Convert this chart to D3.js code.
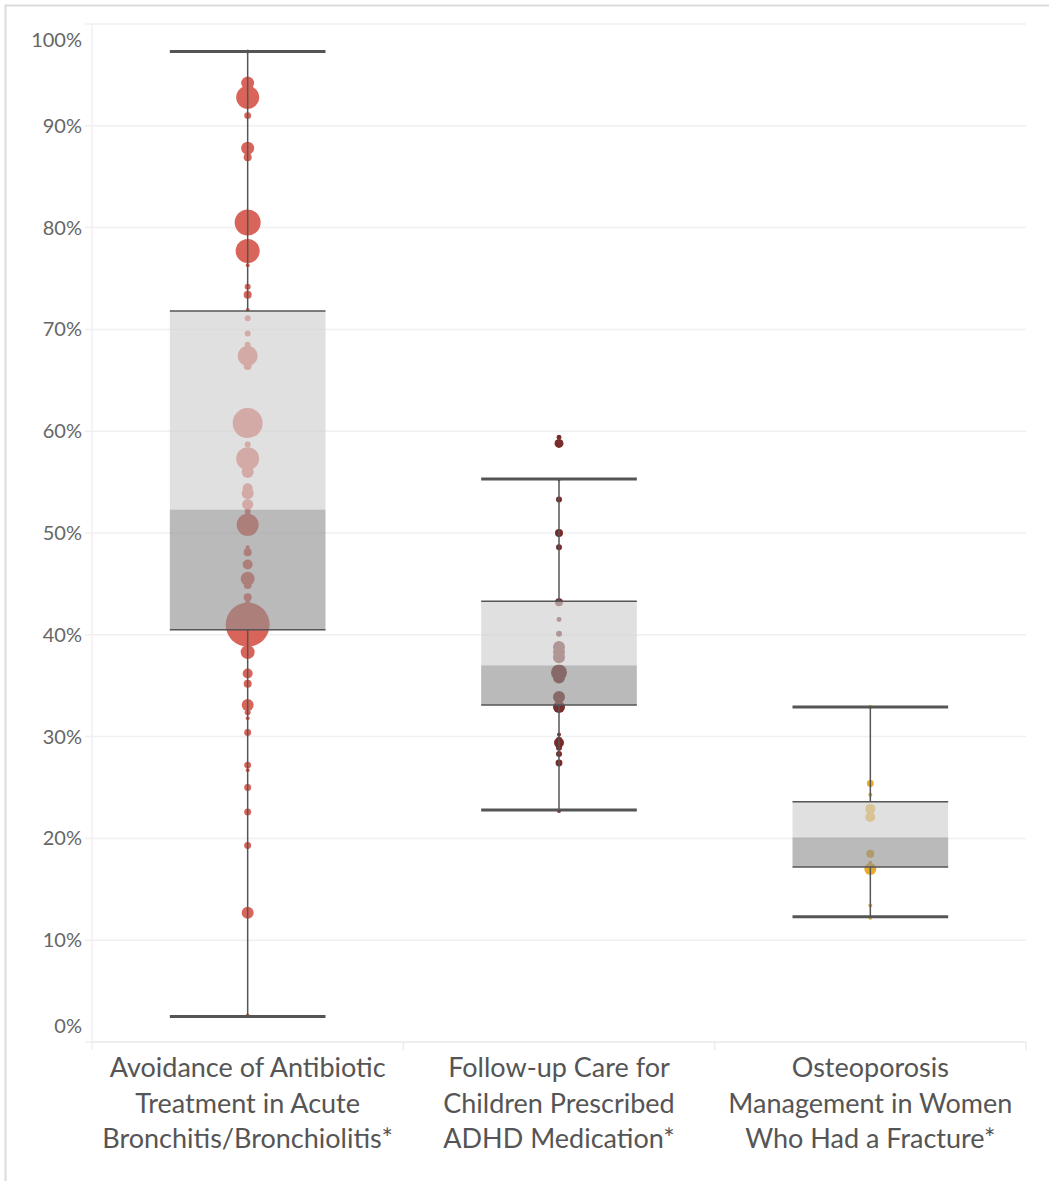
<!DOCTYPE html>
<html>
<head>
<meta charset="utf-8">
<script src="https://cdn.jsdelivr.net/npm/d3@7"></script>
<style>
  html, body { margin: 0; padding: 0; background: #fff; }
  svg { display: block; font-family: Lato, "Open Sans", sans-serif; }
</style>
</head>
<body>
<svg id="chart" width="1049" height="1181"></svg>
<script>
// measures, one box per measure
const categories = [
  "Avoidance of Antibiotic|Treatment in Acute|Bronchitis/Bronchiolitis*",
  "Follow-up Care for|Children Prescribed|ADHD Medication*",
  "Osteoporosis|Management in Women|Who Had a Fracture*"
];
const dotColors = ["#d9645a", "#7a2c2c", "#e8ac2a"];

// box stats (share): whisker high, q3, median, q1, whisker low
const whiskerHigh = [0.973, 0.553, 0.329];
const q3Values    = [0.718, 0.433, 0.236];
const medians     = [0.523, 0.370, 0.201];
const q1Values    = [0.405, 0.331, 0.172];
const whiskerLow  = [0.025, 0.228, 0.123];

// plan rates and eligible members (thousands) per plan
const antibioticRates = [0.973, 0.942, 0.928, 0.920, 0.910, 0.878, 0.869, 0.805, 0.777, 0.763,
  0.742, 0.734, 0.719, 0.711, 0.696, 0.685, 0.674, 0.664, 0.608, 0.587, 0.573, 0.560, 0.544,
  0.539, 0.528, 0.521, 0.508, 0.486, 0.481, 0.469, 0.455, 0.449, 0.437, 0.432, 0.410, 0.383,
  0.362, 0.352, 0.331, 0.324, 0.318, 0.304, 0.272, 0.267, 0.250, 0.226, 0.193, 0.127, 0.026];
const antibioticMembers = [4, 42, 132, 9, 12, 42, 16, 169, 144, 4,
  9, 16, 4, 9, 9, 9, 100, 16, 225, 9, 132, 36, 25,
  36, 30, 9, 121, 4, 16, 25, 49, 16, 16, 6, 484, 49,
  25, 16, 36, 9, 4, 12, 12, 4, 12, 12, 12, 36, 4];

const adhdRates = [0.594, 0.588, 0.552, 0.533, 0.500, 0.486, 0.432, 0.415, 0.401, 0.388,
  0.383, 0.378, 0.363, 0.358, 0.339, 0.329, 0.302, 0.297, 0.294, 0.289, 0.283, 0.274, 0.227];
const adhdMembers = [6, 20, 2, 9, 16, 9, 16, 6, 9, 36,
  36, 36, 64, 36, 36, 36, 4, 9, 25, 9, 9, 12, 4];

const osteoRates = [0.329, 0.254, 0.243, 0.229, 0.221, 0.185, 0.176, 0.170, 0.134, 0.122];
const osteoMembers = [4, 12, 4, 25, 25, 16, 4, 36, 4, 4];

const yTicks = [0, 0.1, 0.2, 0.3, 0.4, 0.5, 0.6, 0.7, 0.8, 0.9, 1.0];

const pointSets = [
  d3.zip(antibioticRates, antibioticMembers),
  d3.zip(adhdRates, adhdMembers),
  d3.zip(osteoRates, osteoMembers)
];

const plotLeft = 92, plotRight = 1026, plotTop = 24, plotBottom = 1042;

const svg = d3.select("#chart");

// outer frame (only top/left edges show)
svg.append("path")
  .attr("d", "M5.5,1181V5.5H1049")
  .attr("fill", "none")
  .attr("stroke", "#dcdcdc")
  .attr("stroke-width", 2);

const x = d3.scaleBand().domain(d3.range(categories.length)).range([plotLeft, plotRight]).padding(0);
const y = d3.scaleLinear().domain([0, 1]).range([plotBottom, plotTop]);
const r = d3.scaleSqrt().domain([0, 484]).range([0, 22]);
const boxW = x.bandwidth() / 2;
const cx = i => x(i) + x.bandwidth() / 2;

// gridlines + y labels
const yAxis = svg.append("g").attr("class", "y-axis");
yAxis.selectAll("line")
  .data(yTicks).enter()
  .append("line")
    .attr("x1", plotLeft - 7).attr("x2", plotRight)
    .attr("y1", d => y(d)).attr("y2", d => y(d))
    .attr("stroke", "#f0f0f0")
    .attr("stroke-width", 1.5);

yAxis.selectAll("text")
  .data(yTicks).enter()
  .append("text")
    .attr("x", plotLeft - 10)
    .attr("y", d => y(d))
    // edge labels get pushed inside like the original
    .attr("dy", d => d === 1 ? "1.15em" : d === 0 ? "-0.45em" : "0.35em")
    .attr("text-anchor", "end")
    .attr("font-size", 20)
    .attr("fill", "#666")
    .text(d3.format(".0%"));

// left edge + x axis line + column ticks
svg.append("line")
  .attr("x1", plotLeft).attr("x2", plotLeft)
  .attr("y1", plotTop).attr("y2", plotBottom + 8)
  .attr("stroke", "#f0f0f0").attr("stroke-width", 1.5);
svg.append("line")
  .attr("x1", plotLeft).attr("x2", plotRight)
  .attr("y1", plotBottom).attr("y2", plotBottom)
  .attr("stroke", "#ececec").attr("stroke-width", 1.5);
svg.selectAll(".col-tick")
  .data(d3.range(1, categories.length + 1)).enter()
  .append("line")
    .attr("class", "col-tick")
    .attr("x1", d => x(d - 1) + x.bandwidth()).attr("x2", d => x(d - 1) + x.bandwidth())
    .attr("y1", plotBottom).attr("y2", plotBottom + 8)
    .attr("stroke", "#ececec").attr("stroke-width", 1.5);

// x labels
const xLabels = svg.append("g").attr("class", "x-labels");
categories.forEach((c, i) => {
  const t = xLabels.append("text")
    .attr("x", cx(i))
    .attr("y", plotBottom + 35)
    .attr("text-anchor", "middle")
    .attr("font-size", 27)
    .attr("fill", "#555");
  c.split("|").forEach((line, j) => {
    t.append("tspan")
      .attr("x", cx(i))
      .attr("dy", j === 0 ? 0 : 35.5)
      .text(line);
  });
});

const boxes = svg.selectAll(".box")
  .data(categories.map((c, i) => i)).enter()
  .append("g")
    .attr("class", "box");

// dots first, the bands wash over them
boxes.each(function(i) {
  d3.select(this).selectAll("circle")
    .data(pointSets[i].slice().sort((a, b) => b[1] - a[1])).enter()
    .append("circle")
      .attr("cx", cx(i))
      .attr("cy", d => y(d[0]))
      .attr("r", d => r(d[1]))
      .attr("fill", dotColors[i]);
});

boxes.append("rect")
  .attr("x", i => cx(i) - boxW / 2)
  .attr("width", boxW)
  .attr("y", i => y(q3Values[i]))
  .attr("height", i => y(medians[i]) - y(q3Values[i]))
  .attr("fill", "#cfcfcf")
  .attr("fill-opacity", 0.65);

boxes.append("rect")
  .attr("x", i => cx(i) - boxW / 2)
  .attr("width", boxW)
  .attr("y", i => y(medians[i]))
  .attr("height", i => y(q1Values[i]) - y(medians[i]))
  .attr("fill", "#8f8f8f")
  .attr("fill-opacity", 0.62);

// whisker stems
boxes.append("line")
  .attr("x1", cx).attr("x2", cx)
  .attr("y1", i => y(whiskerHigh[i])).attr("y2", i => y(q3Values[i]))
  .attr("stroke", "#555").attr("stroke-width", 1.5);
boxes.append("line")
  .attr("x1", cx).attr("x2", cx)
  .attr("y1", i => y(q1Values[i])).attr("y2", i => y(whiskerLow[i]))
  .attr("stroke", "#555").attr("stroke-width", 1.5);

// box edges
[q3Values, q1Values].forEach(vals => {
  boxes.append("line")
    .attr("x1", i => cx(i) - boxW / 2).attr("x2", i => cx(i) + boxW / 2)
    .attr("y1", i => y(vals[i])).attr("y2", i => y(vals[i]))
    .attr("stroke", "#555").attr("stroke-width", 1.5);
});

// whisker caps
[whiskerHigh, whiskerLow].forEach(vals => {
  boxes.append("line")
    .attr("x1", i => cx(i) - boxW / 2).attr("x2", i => cx(i) + boxW / 2)
    .attr("y1", i => y(vals[i])).attr("y2", i => y(vals[i]))
    .attr("stroke", "#555").attr("stroke-width", 3);
});
</script>
</body>
</html>
